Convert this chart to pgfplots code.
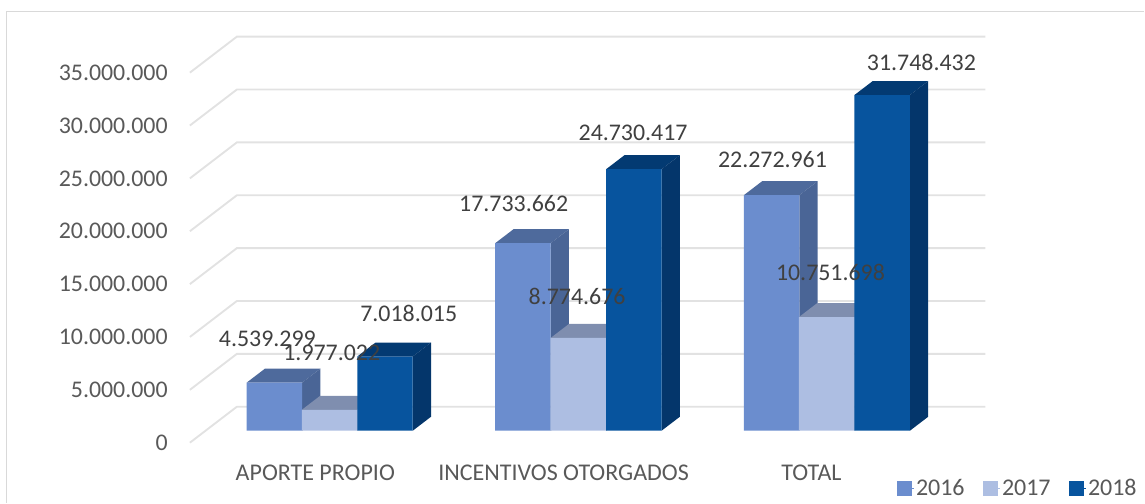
\documentclass[border=0pt]{standalone}
\usepackage{fontspec}
\setmainfont{Carlito}
\usepackage{pgfplots}
\pgfplotsset{compat=1.18}

\definecolor{cA}{HTML}{6B8DCE}
\definecolor{cB}{HTML}{ADBEE2}
\definecolor{cC}{HTML}{07549E}
\definecolor{cAs}{HTML}{4A6596}
\definecolor{cAt}{HTML}{4E6A9C}
\definecolor{cBs}{HTML}{7B8AAB}
\definecolor{cBt}{HTML}{7F8EAF}
\definecolor{cCs}{HTML}{04366B}
\definecolor{cCt}{HTML}{033A72}
\definecolor{gridc}{HTML}{E2E2E2}
\definecolor{framec}{HTML}{D9D9D9}
\definecolor{tickc}{HTML}{595959}
\definecolor{valc}{HTML}{404040}

% y is in millions, x in picture units
\newcommand{\wall}[1]{%
  \pgfmathsetmacro\va{#1-1.134}%
  \pgfmathsetmacro\vb{#1+2.268}%
  \edef\tmp{\noexpand\addplot[gridc,line width=1.9pt,forget plot] coordinates {(190,\va) (237,\vb) (986,\vb)};}%
  \tmp}
% side and top of a bar: #1 left edge, #2 value, #3 top colour, #4 side colour
\newcommand{\depth}[4]{%
  \pgfmathsetmacro\xb{#1+55.5}%
  \pgfmathsetmacro\xc{#1+55.5+18.3}%
  \pgfmathsetmacro\xd{#1+18.3}%
  \pgfmathsetmacro\vt{#2+1.323}%
  \edef\tmp{\noexpand\addplot[fill=#3,draw=none,forget plot] coordinates {(#1,#2) (\xb,#2) (\xc,\vt) (\xd,\vt)} --cycle;
    \noexpand\addplot[fill=#4,draw=none,forget plot] coordinates {(\xb,0) (\xc,1.323) (\xc,\vt) (\xb,#2)} --cycle;}%
  \tmp}

\begin{document}
\begin{tikzpicture}
\begin{axis}[
  scale only axis,
  width=1145pt, height=503pt,
  xmin=0, xmax=1145,
  ymin=-6.805, ymax=40.737,
  clip=false,
  axis line style={draw=none},
  tick style={draw=none},
  xtick={315.5,564,812},
  xticklabels={APORTE PROPIO,INCENTIVOS OTORGADOS,TOTAL},
  xticklabel style={anchor=center,inner sep=0pt,yshift=30.3pt,font=\fontsize{24pt}{26pt}\selectfont,text=tickc},
  ytick={0,5,10,15,20,25,30,35},
  yticklabels={0,5.000.000,10.000.000,15.000.000,20.000.000,25.000.000,30.000.000,35.000.000},
  yticklabel style={anchor=east,inner sep=0pt,xshift=168pt,yshift=-12pt,font=\fontsize{23.9pt}{26pt}\selectfont,text=tickc},
  legend columns=3,
  legend style={draw=none,fill=none,at={(axis cs:897,-5.45)},anchor=west,inner sep=0pt,
    font=\fontsize{24pt}{26pt}\selectfont,text=tickc,
    /tikz/every even column/.append style={column sep=16pt}},
  legend image code/.code={\path (0pt,0pt) -- (17pt,0pt);\fill[#1] (0pt,-7pt) rectangle (14pt,7pt);},
]
\addlegendimage{cA}\addlegendentry{2016}
\addlegendimage{cB}\addlegendentry{2017}
\addlegendimage{cC}\addlegendentry{2018}

% frame, cut off at the bottom and right like the source
\addplot[framec,line width=1.5pt,forget plot] coordinates {(6.5,-6.805) (6.5,39.65) (1145,39.65)};

\wall{0}\wall{5}\wall{10}\wall{15}\wall{20}\wall{25}\wall{30}\wall{35}

\depth{246.7}{4.539299}{cAt}{cAs}
\depth{302}{1.977022}{cBt}{cBs}
\depth{357.5}{7.018015}{cCt}{cCs}
\depth{495.5}{17.733662}{cAt}{cAs}
\depth{551}{8.774676}{cBt}{cBs}
\depth{606.5}{24.730417}{cCt}{cCs}
\depth{744.3}{22.272961}{cAt}{cAs}
\depth{799.5}{10.751698}{cBt}{cBs}
\depth{855}{31.748432}{cCt}{cCs}

\addplot[ybar,bar width=55.5pt,bar shift=0pt,fill=cA,draw=none,forget plot] coordinates {(274.45,4.539299) (523.25,17.733662) (772.05,22.272961)};
\addplot[ybar,bar width=55.5pt,bar shift=0pt,fill=cB,draw=none,forget plot] coordinates {(329.75,1.977022) (578.75,8.774676) (827.25,10.751698)};
\addplot[ybar,bar width=55.5pt,bar shift=0pt,fill=cC,draw=none,forget plot] coordinates {(385.25,7.018015) (634.25,24.730417) (882.75,31.748432)};

% value labels
\addplot[draw=none,forget plot,point meta=explicit symbolic,
  nodes near coords,
  nodes near coords style={anchor=center,inner sep=0pt,text=valc,font=\fontsize{23.9pt}{26pt}\selectfont}]
  coordinates {
  (267.5,8.696)[4.539.299]
  (332,7.372)[1.977.022]
  (409,11.059)[7.018.015]
  (514,21.456)[17.733.662]
  (577.5,12.665)[8.774.676]
  (633.5,28.166)[24.730.417]
  (773,25.614)[22.272.961]
  (831,14.934)[10.751.698]
  (922,34.877)[31.748.432]
};
\end{axis}
\end{tikzpicture}
\end{document}
